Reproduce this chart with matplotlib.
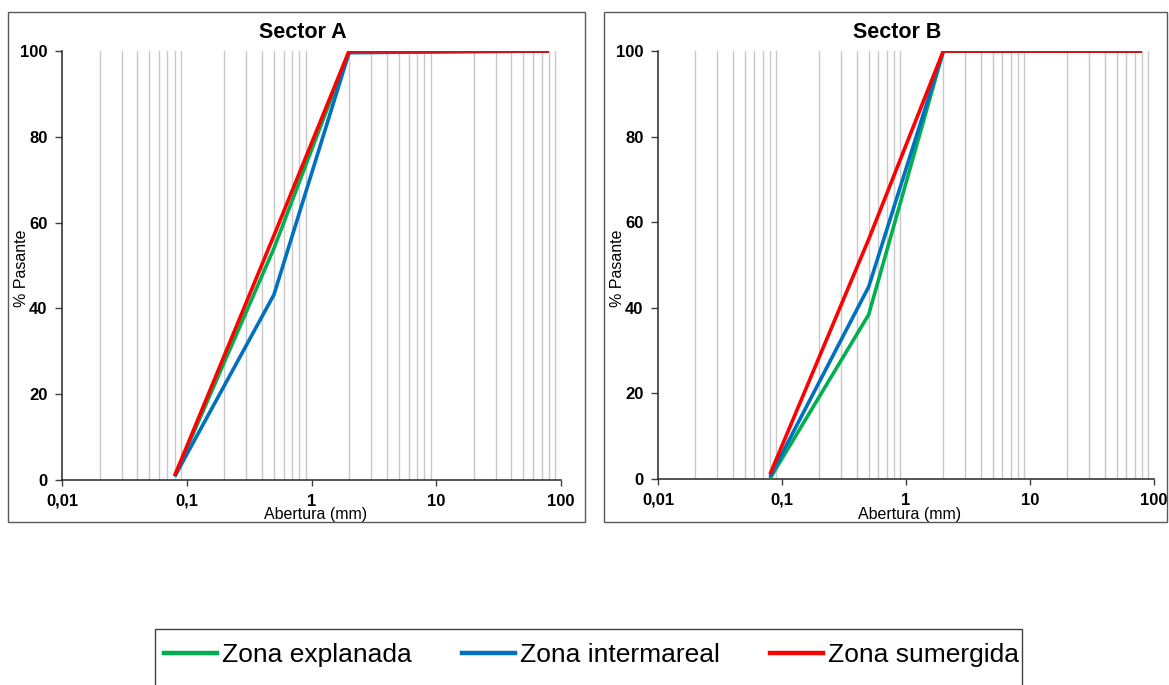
import matplotlib
matplotlib.use("Agg")
import matplotlib.pyplot as plt
from matplotlib.patches import Rectangle
from matplotlib.ticker import FixedLocator, FixedFormatter, LogLocator, NullFormatter
from matplotlib.lines import Line2D

plt.rcParams['font.family'] = ['Liberation Sans', 'DejaVu Sans']

# Sieve openings (mm)
abertura = [0.08, 0.5, 2, 80]

# Percent passing, Sector A
a_explanada = [0.9, 54.0, 99.8, 100.0]
a_intermareal = [0.8, 43.2, 99.6, 100.0]
a_sumergida = [1.0, 57.0, 100.0, 100.0]

# Percent passing, Sector B
b_explanada = [0.1, 38.4, 100.0, 100.0]
b_intermareal = [0.5, 44.9, 100.0, 100.0]
b_sumergida = [1.1, 56.0, 100.0, 100.0]

series_names = ["Zona explanada", "Zona intermareal", "Zona sumergida"]
series_colors = ["#00B050", "#0070C0", "#FF0000"]

x_ticks = [0.01, 0.1, 1, 10, 100]
x_tick_labels = ["0,01", "0,1", "1", "10", "100"]
y_ticks = [0, 20, 40, 60, 80, 100]

W, H = 1169, 685
fig = plt.figure(figsize=(W / 100, H / 100), dpi=100)


def fx(px):
    return px / W


def fy(py):
    return 1 - py / H


def draw_panel(left, right, top, bottom, data, title, title_x, frame):
    fl, fr = frame
    fig.patches.append(Rectangle((fx(fl), fy(522)), fx(fr - fl), (522 - 12) / H,
                                 transform=fig.transFigure, fill=False,
                                 edgecolor="#595959", linewidth=1.0))
    ax = fig.add_axes([fx(left), fy(bottom), fx(right - left), (bottom - top) / H])
    for vals, color in zip(data, series_colors):
        ax.plot(abertura, vals, color=color, linewidth=2.6, solid_capstyle="butt",
                solid_joinstyle="miter", zorder=3)
    ax.set_xscale("log")
    ax.set_xlim(0.01, 100)
    ax.set_ylim(0, 100)
    ax.xaxis.set_major_locator(FixedLocator(x_ticks))
    ax.xaxis.set_major_formatter(FixedFormatter(x_tick_labels))
    ax.xaxis.set_minor_locator(LogLocator(base=10, subs=range(2, 10)))
    ax.xaxis.set_minor_formatter(NullFormatter())
    ax.yaxis.set_major_locator(FixedLocator(y_ticks))
    ax.grid(True, which="minor", axis="x", color="#C8C8C8", linewidth=1.0, zorder=0)
    ax.grid(False, which="major")
    ax.tick_params(axis="x", which="minor", length=0)
    ax.tick_params(axis="x", which="major", direction="out", length=4, width=1,
                   pad=6, labelsize=12, color="#404040")
    ax.tick_params(axis="y", direction="out", length=5, width=1, pad=5.5,
                   labelsize=12, color="#404040")
    for lab in ax.get_xticklabels() + ax.get_yticklabels():
        lab.set_fontweight("bold")
    for s in ("top", "right"):
        ax.spines[s].set_visible(False)
    for s in ("left", "bottom"):
        ax.spines[s].set_color("#262626")
        ax.spines[s].set_linewidth(1.1)
    ax.set_axisbelow(True)
    fig.text(fx(title_x), fy(33), title, ha="center", va="center",
             fontsize=15.5, fontweight="bold")
    fig.text(fx((left + right) / 2 + 4), fy(515), "Abertura (mm)", ha="center",
             va="center", fontsize=11.5)
    fig.text(fx(left - 40), fy(268), "% Pasante", ha="center", va="center",
             rotation=90, fontsize=11.5)
    return ax


draw_panel(62, 561, 51, 480, [a_explanada, a_intermareal, a_sumergida],
           "Sector A", 303, (8, 585))
draw_panel(658, 1154, 51, 479, [b_explanada, b_intermareal, b_sumergida],
           "Sector B", 897, (604, 1167))

# Legend box runs past the lower edge of the figure
fig.patches.append(Rectangle((fx(155), fy(700)), fx(1022 - 155), (700 - 629) / H,
                             transform=fig.transFigure, fill=False,
                             edgecolor="#404040", linewidth=1.0))
handles = [Line2D([], [], color=c, linewidth=3.2) for c in series_colors]
leg = fig.legend(handles, series_names, loc="upper left",
                 bbox_to_anchor=(fx(155), fy(634)), ncol=3, fontsize=19,
                 frameon=False, handlelength=2.0, handletextpad=0.2,
                 columnspacing=1.9, borderpad=0.35, borderaxespad=0)

fig.savefig("out.png", dpi=100, facecolor="white")
